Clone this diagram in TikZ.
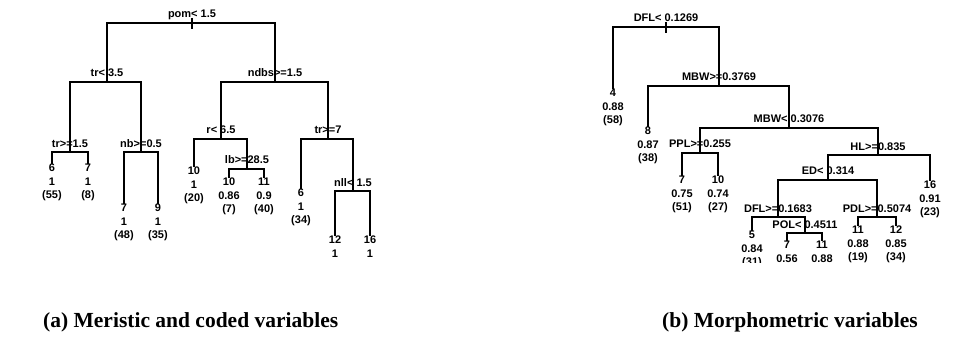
\documentclass[tikz,border=0pt]{standalone}
\usepackage{fontspec}
\setmainfont{Liberation Serif}
\newfontfamily\treefont{Liberation Sans}
\begin{document}
\begin{tikzpicture}[x=1pt,y=-1pt,
  tree/.style={line width=1.5pt},
  splitlab/.style={font=\treefont\bfseries\fontsize{11}{12}\selectfont, anchor=base, inner sep=0pt, yshift=5pt},
  leaflab/.style={font=\treefont\bfseries\fontsize{11}{13.5}\selectfont, anchor=north, align=center, inner sep=0pt},
  caption/.style={font=\bfseries\fontsize{21.5}{24}\selectfont, anchor=base west, inner sep=0pt}]
\useasboundingbox (0,0) rectangle (969,342);
% ---------- left tree ----------
\coordinate (a1) at (192,23);
\coordinate (a2) at (107,82);
\coordinate (a3) at (275,82);
\coordinate (a4) at (70,152);
\coordinate (a5) at (141,152);
\coordinate (a6) at (221,139);
\coordinate (a7) at (328,139);
\coordinate (a8) at (247,169);
\coordinate (a9) at (353,191);
\node[leaflab] (la1) at (52,164) {6\\1\\(55)};
\node[leaflab] (la2) at (88,164) {7\\1\\(8)};
\node[leaflab] (la3) at (124,204) {7\\1\\(48)};
\node[leaflab] (la4) at (158,204) {9\\1\\(35)};
\node[leaflab] (la5) at (194,167) {10\\1\\(20)};
\node[leaflab] (la6) at (229,178) {10\\0.86\\(7)};
\node[leaflab] (la7) at (264,178) {11\\0.9\\(40)};
\node[leaflab] (la8) at (301,189) {6\\1\\(34)};
\node[leaflab] (la9) at (335,236) {12\\1};
\node[leaflab] (la10) at (370,236) {16\\1};
\draw[tree] (a2) |- (a1) -| (a3);
\draw[tree] (a4) |- (a2) -| (a5);
\draw[tree] (la1.north) |- (a4) -| (la2.north);
\draw[tree] (la3.north) |- (a5) -| (la4.north);
\draw[tree] (a6) |- (a3) -| (a7);
\draw[tree] (la5.north) |- (a6) -| (a8);
\draw[tree] (la6.north) |- (a8) -| (la7.north);
\draw[tree] (la8.north) |- (a7) -| (a9);
\draw[tree] (la9.north) |- (a9) -| (la10.north);
\draw[tree] ([yshift=5pt]a1) -- ([yshift=-6pt]a1);
\node[splitlab] (sa1) at (a1) {pom< 1.5};
\node[splitlab] (sa2) at (a2) {tr< 3.5};
\node[splitlab] (sa3) at (a3) {ndbs>=1.5};
\node[splitlab] (sa4) at (a4) {tr>=1.5};
\node[splitlab] (sa5) at (a5) {nb>=0.5};
\node[splitlab] (sa6) at (a6) {r< 6.5};
\node[splitlab] (sa7) at (a7) {tr>=7};
\node[splitlab] (sa8) at (a8) {lb>=28.5};
\node[splitlab] (sa9) at (a9) {nll< 1.5};
% ---------- right tree ----------
\coordinate (b1) at (666,27);
\coordinate (b2) at (719,86);
\coordinate (b3) at (789,128);
\coordinate (b4) at (700,153);
\coordinate (b5) at (878,155);
\coordinate (b6) at (828,180);
\coordinate (b7) at (778,217);
\coordinate (b8) at (877,217);
\coordinate (b9) at (805,233);
\node[leaflab] (lb1) at (613,89) {4\\0.88\\(58)};
\node[leaflab] (lb2) at (648,127) {8\\0.87\\(38)};
\node[leaflab] (lb3) at (682,176) {7\\0.75\\(51)};
\node[leaflab] (lb4) at (718,176) {10\\0.74\\(27)};
\node[leaflab] (lb5) at (930,181) {16\\0.91\\(23)};
\begin{scope}
\clip (600,0) rectangle (969,262);
\node[leaflab] (lb6) at (752,231) {5\\0.84\\(31)};
\end{scope}
\node[leaflab] (lb7) at (787,241) {7\\0.56};
\node[leaflab] (lb8) at (822,241) {11\\0.88};
\node[leaflab] (lb9) at (858,226) {11\\0.88\\(19)};
\node[leaflab] (lb10) at (896,226) {12\\0.85\\(34)};
\draw[tree] (lb1.north) |- (b1) -| (b2);
\draw[tree] (lb2.north) |- (b2) -| (b3);
\draw[tree] (b4) |- (b3) -| (b5);
\draw[tree] (lb3.north) |- (b4) -| (lb4.north);
\draw[tree] (b6) |- (b5) -| (lb5.north);
\draw[tree] (b7) |- (b6) -| (b8);
\draw[tree] (lb6.north) |- (b7) -| (b9);
\draw[tree] (lb7.north) |- (b9) -| (lb8.north);
\draw[tree] (lb9.north) |- (b8) -| (lb10.north);
\draw[tree] ([yshift=5pt]b1) -- ([yshift=-6pt]b1);
\node[splitlab] (sb1) at (b1) {DFL< 0.1269};
\node[splitlab] (sb2) at (b2) {MBW>=0.3769};
\node[splitlab] (sb3) at (b3) {MBW< 0.3076};
\node[splitlab] (sb4) at (b4) {PPL>=0.255};
\node[splitlab] (sb5) at (b5) {HL>=0.835};
\node[splitlab] (sb6) at (b6) {ED< 0.314};
\node[splitlab] (sb7) at (b7) {DFL>=0.1683};
\node[splitlab] (sb8) at (b8) {PDL>=0.5074};
\node[splitlab] (sb9) at (b9) {POL< 0.4511};
% ---------- captions ----------
\node[caption] (capa) at (43,327) {(a) Meristic and coded variables};
\node[caption] (capb) at (662,327) {(b) Morphometric variables};
\end{tikzpicture}
\end{document}
